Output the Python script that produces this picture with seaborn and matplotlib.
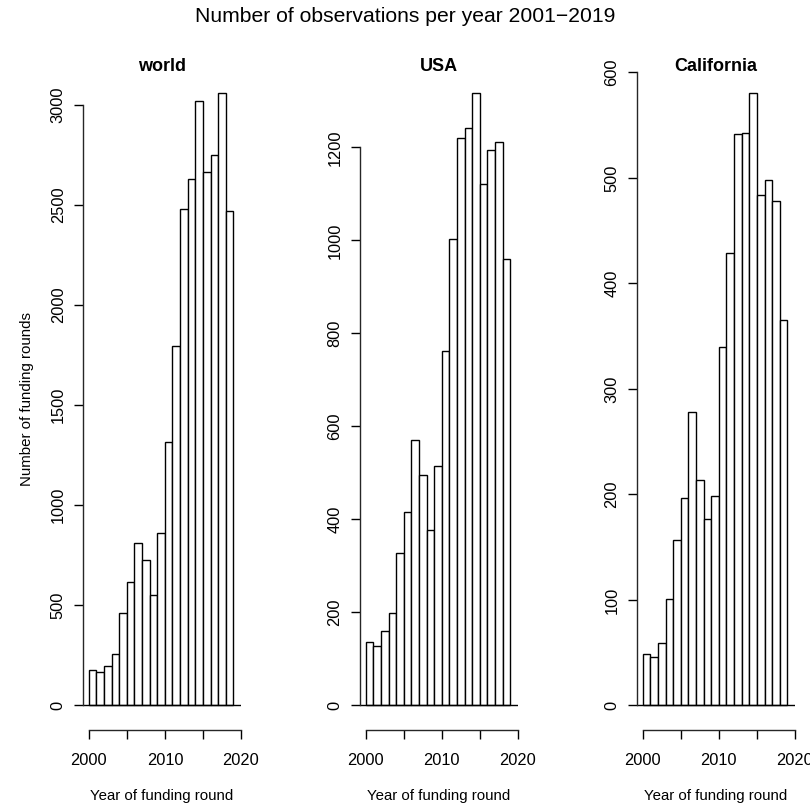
import matplotlib
matplotlib.use("Agg")
import matplotlib.pyplot as plt
import numpy as np
import pandas as pd
import seaborn as sns

# Datos: rondas de financiamiento por año
years = list(range(2001, 2020))
world = [177, 167, 195, 257, 462, 615, 812, 725, 553, 860,
         1318, 1793, 2480, 2631, 3017, 2663, 2750, 3061, 2470]
usa = [136, 128, 160, 199, 328, 415, 571, 495, 378, 515,
       762, 1004, 1220, 1242, 1318, 1121, 1195, 1212, 961]
california = [49, 46, 59, 101, 157, 197, 278, 214, 177, 199,
              340, 429, 542, 543, 581, 484, 498, 478, 365]

panel_titles = ["world", "USA", "California"]
y_steps = [500, 200, 100]

sns.set_style("ticks")
plt.rcParams.update({
    "font.family": ["Liberation Sans", "DejaVu Sans"],
    "text.color": "black",
    "axes.labelcolor": "black",
    "xtick.color": "black",
    "ytick.color": "black",
})

fig = plt.figure(figsize=(8.1, 8.06), dpi=100)

# posiciones de los paneles (imitando par(mfrow=c(1,3)) de R)
lefts = [0.1025, 0.4444, 0.7864]
bottom, width, height = 0.0943, 0.195, 0.8213

for left, title, counts, step in zip(lefts, panel_titles,
                                     [world, usa, california], y_steps):
    ax = fig.add_axes([left, bottom, width, height])
    # hist() de R es cerrado a derecha: el año 2001 cae en (2000, 2001]
    df = pd.DataFrame({"year": np.array(years) - 0.5, "n": counts})
    sns.histplot(data=df, x="year", weights="n", binwidth=1,
                 binrange=(years[0] - 1, years[-1]),
                 color="white", edgecolor="black", linewidth=1.0, alpha=1,
                 ax=ax)
    ax.axhline(0, color="black", lw=1.0)

    top = max(counts)
    ax.set_ylim(-0.04 * top, 1.04 * top)
    ax.set_xlim(2000 - 0.04 * 19, 2020)

    # como pretty() de R: ticks dentro del rango visible
    yt = np.arange(0, 1.04 * top, step)
    ax.set_yticks(yt)
    ax.set_yticklabels([str(int(v)) for v in yt], rotation=90, va="center")
    xt = np.arange(2000, 2021, 5)
    ax.set_xticks(xt)
    ax.set_xticklabels([str(v) if v % 10 == 0 else "" for v in xt])

    sns.despine(ax=ax)
    ax.spines["left"].set_bounds(0, yt[-1])
    ax.spines["bottom"].set_bounds(2000, 2020)
    for s in ["left", "bottom"]:
        ax.spines[s].set_linewidth(1.0)
    ax.tick_params(axis="both", length=6.5, width=1.0, labelsize=11.8)
    ax.tick_params(axis="x", pad=10)
    ax.tick_params(axis="y", pad=6)

    # y fijo: si no, matplotlib recoloca el título por encima del eje
    ax.set_title(title, fontsize=13, fontweight="bold", y=1.0, pad=-2.5)
    ax.set_xlabel("Year of funding round", fontsize=10.8, labelpad=15)
    ax.set_ylabel("")
    ax.set_facecolor("white")

fig.axes[0].set_ylabel("Number of funding rounds", fontsize=10.8, labelpad=12)

fig.suptitle("Number of observations per year 2001\u22122019",
             fontsize=15.2, y=0.98, va="center")

fig.savefig("out.png", dpi=100, facecolor="white")
